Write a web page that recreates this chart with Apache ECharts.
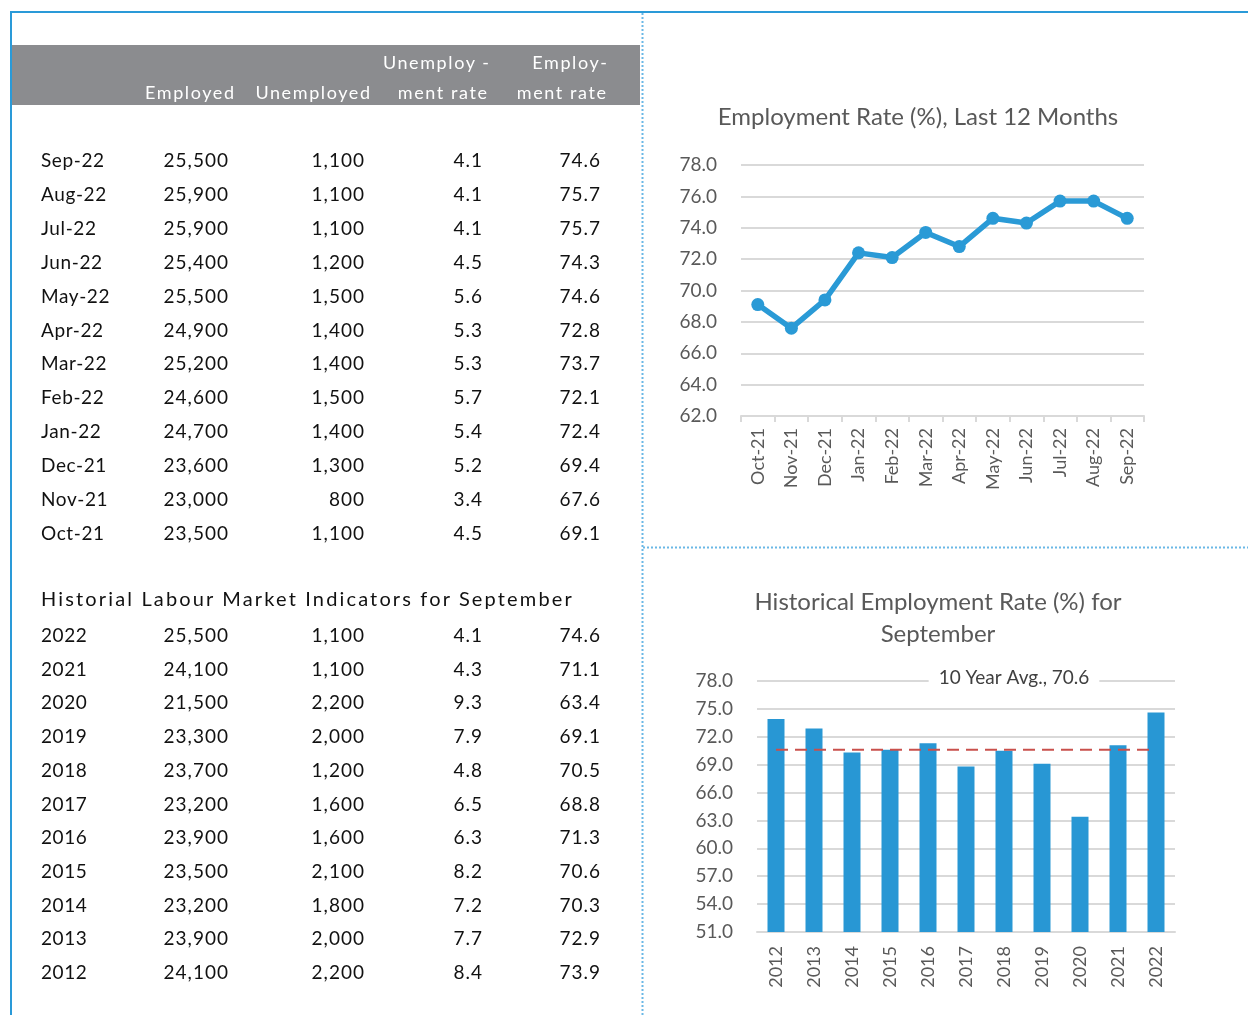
<!DOCTYPE html>
<html>
<head>
<meta charset="utf-8">
<script src="https://cdn.jsdelivr.net/npm/echarts@6/dist/echarts.min.js"></script>
<style>
html,body{margin:0;padding:0;background:#fff;}
#wrap{position:relative;width:1248px;height:1015px;overflow:hidden;}
#main{position:absolute;left:0;top:0;width:1248px;height:1015px;}
#table{position:absolute;left:0;top:0;width:1248px;height:1015px;pointer-events:none;font-family:Lato,"Open Sans",sans-serif;}
#table div{position:absolute;white-space:nowrap;line-height:24px;height:24px;}
</style>
</head>
<body>
<div id="wrap">
<div id="main"></div>
<div id="table"></div>
</div>
<script>
// ---- Data ----
const recentMonths = ['Sep-22','Aug-22','Jul-22','Jun-22','May-22','Apr-22','Mar-22','Feb-22','Jan-22','Dec-21','Nov-21','Oct-21'];
const recentEmployed = ['25,500','25,900','25,900','25,400','25,500','24,900','25,200','24,600','24,700','23,600','23,000','23,500'];
const recentUnemployed = ['1,100','1,100','1,100','1,200','1,500','1,400','1,400','1,500','1,400','1,300','800','1,100'];
const recentUnempRate = [4.1,4.1,4.1,4.5,5.6,5.3,5.3,5.7,5.4,5.2,3.4,4.5];
const recentEmpRate = [74.6,75.7,75.7,74.3,74.6,72.8,73.7,72.1,72.4,69.4,67.6,69.1];

const histYears = ['2022','2021','2020','2019','2018','2017','2016','2015','2014','2013','2012'];
const histEmployed = ['25,500','24,100','21,500','23,300','23,700','23,200','23,900','23,500','23,200','23,900','24,100'];
const histUnemployed = ['1,100','1,100','2,200','2,000','1,200','1,600','1,600','2,100','1,800','2,000','2,200'];
const histUnempRate = [4.1,4.3,9.3,7.9,4.8,6.5,6.3,8.2,7.2,7.7,8.4];
const histEmpRate = [74.6,71.1,63.4,69.1,70.5,68.8,71.3,70.6,70.3,72.9,73.9];

const tenYearAvg = 70.6;

// chart series (chronological order)
const lineCats = recentMonths.slice().reverse();
const lineVals = recentEmpRate.slice().reverse();
const barCats = histYears.slice().reverse();
const barVals = histEmpRate.slice().reverse();
const avgVals = barCats.map(() => tenYearAvg);

// ---- Table (HTML text) ----
const T = document.getElementById('table');
function txt(s, x, y, align, opts){
  opts = opts || {};
  const d = document.createElement('div');
  const ls = opts.ls || 0;
  d.textContent = s;
  d.style.fontSize = (opts.size || 19) + 'px';
  d.style.color = opts.color || '#111';
  d.style.letterSpacing = ls + 'px';
  d.style.top = (y - 12) + 'px';
  if (align === 'right') d.style.right = (1248 - x - ls) + 'px';
  else d.style.left = x + 'px';
  T.appendChild(d);
}
const hdr = [
  ['Employed',234,92],['Unemployed',370,92],
  ['Unemploy -',489,62],['ment rate',487,92],
  ['Employ-',607,62],['ment rate',606,92]
];
hdr.forEach(h => txt(h[0], h[1], h[2], 'right', {color:'#fff', size:18, ls:1.6}));

const colX = [228,364,482,600];
function addRow(label, vals, y){
  txt(label, 41, y, 'left', {ls:0.6});
  vals.forEach((v,i)=> txt(String(v), colX[i], y, 'right', {ls:1}));
}
recentMonths.forEach((m,i)=> addRow(m,[recentEmployed[i],recentUnemployed[i],recentUnempRate[i].toFixed(1),recentEmpRate[i].toFixed(1)],160+i*33.9));
txt('Historial Labour Market Indicators for September', 41, 598, 'left', {size:20, ls:2.15});
histYears.forEach((m,i)=> addRow(m,[histEmployed[i],histUnemployed[i],histUnempRate[i].toFixed(1),histEmpRate[i].toFixed(1)],635+i*33.7));

// ---- Chart ----
const FONT = 'Lato, "Open Sans", sans-serif';
const chart = echarts.init(document.getElementById('main'));
const g = [];

// borders
g.push({type:'rect', shape:{x:10,y:11,width:1238,height:2}, style:{fill:'#2a9ad8'}, silent:true});
g.push({type:'rect', shape:{x:10,y:11,width:2,height:1004}, style:{fill:'#2a9ad8'}, silent:true});
g.push({type:'line', shape:{x1:642.5,y1:13,x2:642.5,y2:1015}, style:{stroke:'#6ab8e6',lineWidth:2,lineDash:[2,2]}, silent:true});
g.push({type:'line', shape:{x1:643,y1:547.5,x2:1248,y2:547.5}, style:{stroke:'#6ab8e6',lineWidth:2,lineDash:[2,2]}, silent:true});
// header band
g.push({type:'rect', shape:{x:12,y:45,width:628,height:60}, style:{fill:'#8b8c8f'}, silent:true});

// chart titles
g.push({type:'text', x:918, y:117, style:{text:'Employment Rate (%), Last 12 Months', fill:'#595959', font:'24px '+FONT, textAlign:'center', textVerticalAlign:'middle'}, silent:true});
g.push({type:'text', x:938, y:602, style:{text:'Historical Employment Rate (%) for', fill:'#595959', font:'24px '+FONT, textAlign:'center', textVerticalAlign:'middle'}, silent:true});
g.push({type:'text', x:938, y:634, style:{text:'September', fill:'#595959', font:'24px '+FONT, textAlign:'center', textVerticalAlign:'middle'}, silent:true});
// avg label
g.push({type:'text', x:1014, y:678, z:100, style:{text:'10 Year Avg., 70.6', fill:'#404040', font:'19px '+FONT, textAlign:'center', textVerticalAlign:'middle', backgroundColor:'#fff', padding:[2,10]}, silent:true});

const axisLabelY = {color:'#595959', fontSize:19, fontFamily:FONT, formatter: v => v.toFixed(1)};
const axisLabelX = {color:'#595959', fontSize:18, fontFamily:FONT, rotate:90, interval:0};

chart.setOption({
  animation:false,
  grid:[
    {left:741, right:104, top:165, bottom:599},
    {left:757, right:73, top:681, bottom:83}
  ],
  xAxis:[
    {type:'category', gridIndex:0, data:lineCats, boundaryGap:true,
     axisLine:{lineStyle:{color:'#d9d9d9',width:2}}, axisTick:{show:true,length:6,lineStyle:{color:'#d9d9d9',width:2}},
     axisLabel:Object.assign({margin:12},axisLabelX)},
    {type:'category', gridIndex:1, data:barCats, boundaryGap:true,
     axisLine:{lineStyle:{color:'#d9d9d9',width:2}}, axisTick:{show:false},
     axisLabel:Object.assign({margin:14},axisLabelX)}
  ],
  yAxis:[
    {type:'value', gridIndex:0, min:62, max:78, interval:2,
     axisLine:{show:false}, axisTick:{show:false},
     splitLine:{lineStyle:{color:'#d9d9d9',width:2}}, axisLabel:Object.assign({margin:24},axisLabelY)},
    {type:'value', gridIndex:1, min:51, max:78, interval:3,
     axisLine:{show:false}, axisTick:{show:false},
     splitLine:{lineStyle:{color:'#d9d9d9',width:2}}, axisLabel:Object.assign({margin:24},axisLabelY)}
  ],
  series:[
    {type:'line', xAxisIndex:0, yAxisIndex:0, data:lineVals, symbol:'circle', symbolSize:13,
     lineStyle:{color:'#2a9ad6',width:5.5}, itemStyle:{color:'#2a9ad6'}},
    {type:'bar', xAxisIndex:1, yAxisIndex:1, data:barVals, barWidth:17,
     itemStyle:{color:'#2897d4'}},
    {type:'line', xAxisIndex:1, yAxisIndex:1, data:avgVals, symbol:'none',
     lineStyle:{color:'#c9504c',width:2,type:[12,7]}, z:5}
  ],
  graphic:g
});
</script>
</body>
</html>
